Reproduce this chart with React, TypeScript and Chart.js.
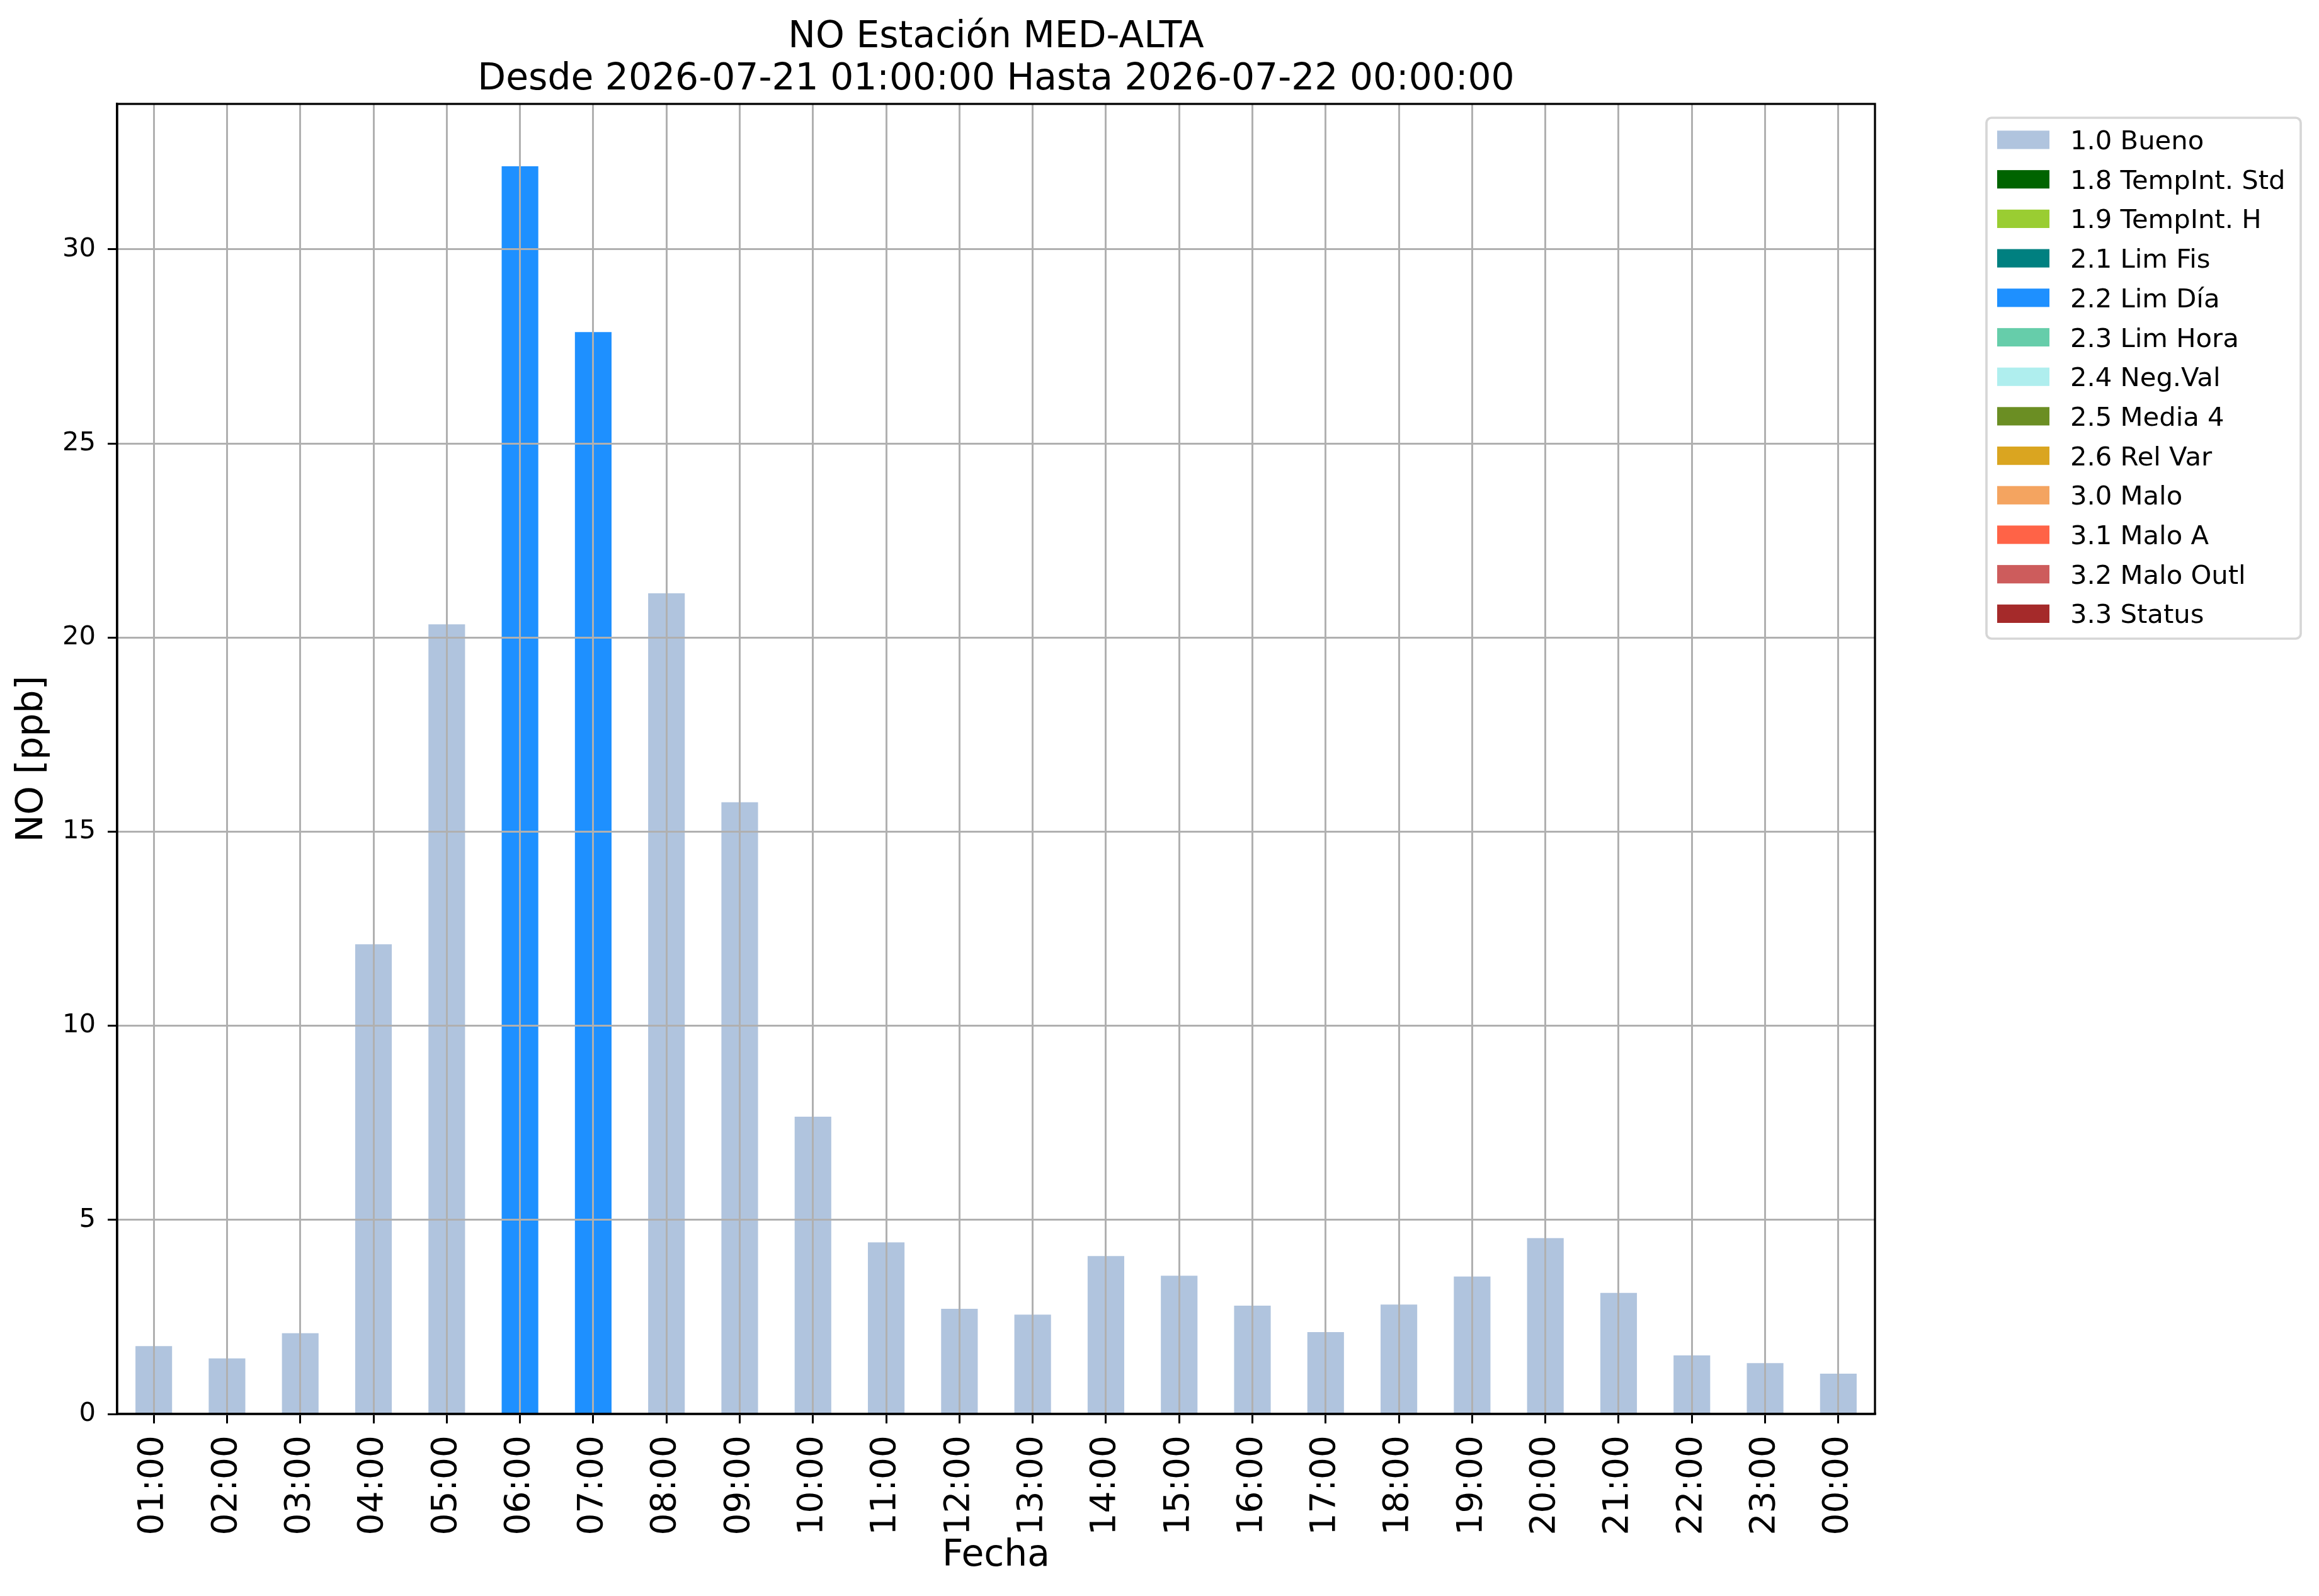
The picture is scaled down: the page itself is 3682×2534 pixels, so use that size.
import React, { useEffect, useRef } from "react";
import { Chart, registerables } from "chart.js";

Chart.register(...registerables);

const HOURS = [
  "01:00", "02:00", "03:00", "04:00", "05:00", "06:00", "07:00", "08:00",
  "09:00", "10:00", "11:00", "12:00", "13:00", "14:00", "15:00", "16:00",
  "17:00", "18:00", "19:00", "20:00", "21:00", "22:00", "23:00", "00:00",
];

const NO_VALUES = [
  1.75, 1.43, 2.08, 12.1, 20.34, 32.14, 27.87, 21.14, 15.76, 7.66, 4.42, 2.71,
  2.56, 4.07, 3.56, 2.79, 2.11, 2.82, 3.54, 4.53, 3.12, 1.51, 1.31, 1.04,
];

const HOUR_FLAGS = [
  "1.0", "1.0", "1.0", "1.0", "1.0", "2.2", "2.2", "1.0", "1.0", "1.0", "1.0", "1.0",
  "1.0", "1.0", "1.0", "1.0", "1.0", "1.0", "1.0", "1.0", "1.0", "1.0", "1.0", "1.0",
];

const FLAG_CODES = ["1.0", "1.8", "1.9", "2.1", "2.2", "2.3", "2.4", "2.5", "2.6", "3.0", "3.1", "3.2", "3.3"];
const FLAG_NAMES = [
  "Bueno", "TempInt. Std", "TempInt. H", "Lim Fis", "Lim Día", "Lim Hora",
  "Neg.Val", "Media 4", "Rel Var", "Malo", "Malo A", "Malo Outl", "Status",
];
const FLAG_COLORS = [
  "#B0C4DE", "#006400", "#9ACD32", "#008080", "#1E90FF", "#66CDAA",
  "#AFEEEE", "#6B8E23", "#DAA520", "#F4A460", "#FF6347", "#CD5C5C", "#A52A2A",
];

const TITLE_LINES = ["NO Estación MED-ALTA", "Desde 2026-07-21 01:00:00 Hasta 2026-07-22 00:00:00"];
const X_TITLE = "Fecha";
const Y_TITLE = "NO [ppb]";
const Y_STEP = 5;

const W = 3682;
const H = 2534;
const FONT = "'DejaVu Sans', sans-serif";

const titlePlugin = {
  id: "mplTitle",
  afterDraw(chart: any) {
    const { ctx, chartArea } = chart;
    ctx.save();
    ctx.fillStyle = "#000";
    ctx.font = `58.3px ${FONT}`;
    ctx.textAlign = "center";
    ctx.textBaseline = "alphabetic";
    const cx = (chartArea.left + chartArea.right) / 2;
    TITLE_LINES.forEach((t, i) => ctx.fillText(t, cx, 75 + i * 67));
    ctx.restore();
  },
};

const framePlugin = {
  id: "mplFrame",
  afterDraw(chart: any) {
    const { ctx, chartArea } = chart;
    ctx.save();
    ctx.strokeStyle = "#000";
    ctx.lineWidth = 3.3;
    ctx.strokeRect(chartArea.left, chartArea.top, chartArea.right - chartArea.left, chartArea.bottom - chartArea.top);
    ctx.restore();
  },
};

const legendPlugin = {
  id: "mplLegend",
  afterDraw(chart: any) {
    const { ctx, chartArea } = chart;
    const ds = chart.data.datasets;
    const left = chartArea.right + 177;
    const top = chartArea.top + 22;
    const rowH = 62.7;
    const boxW = 499;
    const boxH = 827;
    ctx.save();
    ctx.fillStyle = "rgba(255,255,255,0.8)";
    ctx.strokeStyle = "#d6d6d6";
    ctx.lineWidth = 3.7;
    ctx.beginPath();
    (ctx as any).roundRect(left, top, boxW, boxH, 8);
    ctx.fill();
    ctx.stroke();
    ctx.font = `41.7px ${FONT}`;
    ctx.textAlign = "left";
    ctx.textBaseline = "alphabetic";
    ds.forEach((d: any, i: number) => {
      const cy = top + 35 + i * rowH;
      ctx.fillStyle = d.backgroundColor;
      ctx.fillRect(left + 17, cy - 14.6, 83, 29.2);
      ctx.fillStyle = "#000";
      ctx.fillText(d.label, left + 133, cy + 15);
    });
    ctx.restore();
  },
};

export default function App() {
  const ref = useRef<HTMLCanvasElement | null>(null);

  useEffect(() => {
    if (!ref.current) return;
    const datasets = FLAG_CODES.map((code, k) => ({
      label: `${code} ${FLAG_NAMES[k]}`,
      data: NO_VALUES.map((v, i) => (HOUR_FLAGS[i] === code ? v : null)),
      backgroundColor: FLAG_COLORS[k],
      borderWidth: 0,
      categoryPercentage: 1,
      barPercentage: 0.5,
    }));
    const yMax = Math.max(...NO_VALUES) * 1.05;

    const chart = new Chart(ref.current, {
      type: "bar",
      data: { labels: HOURS, datasets },
      options: {
        responsive: false,
        animation: false,
        devicePixelRatio: 1,
        events: [],
        layout: { padding: { top: 165, left: 0, right: W - 2977, bottom: 0 } },
        plugins: {
          legend: { display: false },
          title: { display: false },
          tooltip: { enabled: false },
        },
        scales: {
          x: {
            stacked: true,
            offset: true,
            grid: {
              offset: false,
              color: "#b0b0b0",
              lineWidth: 3,
              z: 1,
              drawTicks: true,
              tickLength: 15,
              tickColor: "#000",
              tickWidth: 3,
            },
            border: { display: true, color: "#000", width: 3.3, z: 2 },
            ticks: {
              autoSkip: false,
              maxRotation: 90,
              minRotation: 90,
              color: "#000",
              padding: 19,
              font: { family: FONT, size: 55 },
            },
            title: {
              display: true,
              text: X_TITLE,
              color: "#000",
              font: { family: FONT, size: 58.3, lineHeight: 1.2 },
              padding: { top: 0, bottom: 28 },
            },
            afterFit: (s: any) => {
              s.height = H - 2245;
            },
          },
          y: {
            stacked: true,
            min: 0,
            max: yMax,
            grid: {
              color: "#b0b0b0",
              lineWidth: 3,
              z: 1,
              drawTicks: true,
              tickLength: 15,
              tickColor: "#000",
              tickWidth: 3,
            },
            border: { display: true, color: "#000", width: 3.3, z: 2 },
            ticks: {
              stepSize: Y_STEP,
              includeBounds: false,
              color: "#000",
              padding: 19,
              font: { family: FONT, size: 41.7 },
            },
            title: {
              display: true,
              text: Y_TITLE,
              color: "#000",
              font: { family: FONT, size: 58.3, lineHeight: 1.2 },
              padding: { top: 17, bottom: 0 },
            },
            afterFit: (s: any) => {
              s.width = 186;
            },
          },
        },
      } as any,
      plugins: [titlePlugin, framePlugin, legendPlugin],
    });
    return () => chart.destroy();
  }, []);

  return (
    <div style={{ position: "absolute", left: 0, top: 0, width: W, height: H, background: "#fff" }}>
      <canvas ref={ref} width={W} height={H} style={{ display: "block", width: W, height: H }} />
    </div>
  );
}
